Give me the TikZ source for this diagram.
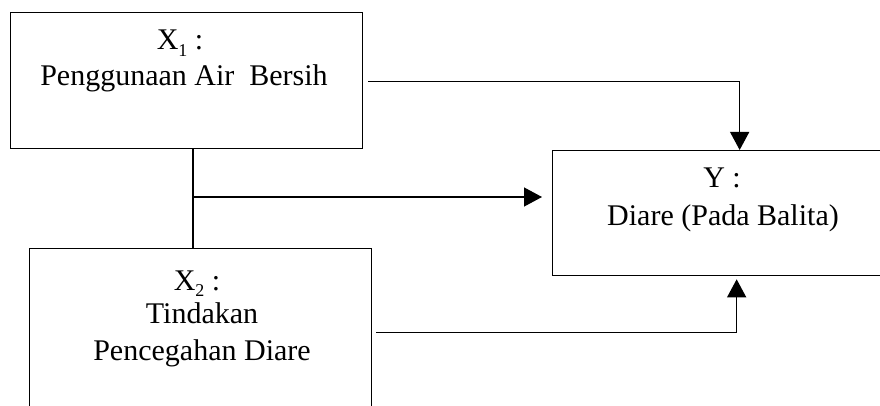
\documentclass[tikz,border=0pt]{standalone}
\usepackage{fontspec}
\setmainfont{Liberation Serif}
\usetikzlibrary{arrows.meta}
\newcommand{\subidx}[1]{\raisebox{-0.22em}{\fontsize{18}{18}\selectfont #1}}
\begin{document}
\begin{tikzpicture}[x=1pt,y=-1pt,
  box/.style={draw=black, line width=1.3pt, anchor=north west, inner sep=0pt},
  lbl/.style={anchor=base, inner sep=0pt, font=\fontsize{30}{36}\selectfont},
  conn/.style={draw=black, line width=1.3pt},
  tip/.style={-{Triangle[length=18pt,width=19pt]}}]
  \useasboundingbox (0,0) rectangle (880,406);
  \clip (0,0) rectangle (880,406);
  \fill[white] (0,0) rectangle (880,406);

  % boxes
  \node[box, minimum width=352pt, minimum height=136pt] (x1) at (10,12) {};
  \node[box, minimum width=342pt, minimum height=168pt] (x2) at (29,248) {};
  \node[box, minimum width=342pt, minimum height=125pt] (y) at (552,150) {};

  % labels
  \node[lbl] (x1a) at (180,50) {X\subidx{1} :};
  \node[lbl] (x1b) at (184,86) {Penggunaan Air\ \ Bersih};
  \node[lbl] (x2a) at (197,290) {X\subidx{2} :};
  \node[lbl] (x2b) at (202,323) {Tindakan};
  \node[lbl] (x2c) at (202,360) {Pencegahan Diare};
  \node[lbl] (ya) at (722,188) {Y :};
  \node[lbl] (yb) at (723,225) {Diare (Pada Balita)};

  % connectors
  \coordinate (j) at (193,197);
  \draw[conn] (x1.south -| j) -- (x2.north -| j);
  \draw[conn, tip, shorten >=10pt] (j) -- (y.west |- j);
  \draw[conn, tip, shorten <=5pt] ([yshift=-1pt]x1.east) -| ([xshift=16pt]y.north);
  \draw[conn, tip, shorten <=4pt, shorten >=3pt] (x2.east) -| ([xshift=13pt]y.south);
\end{tikzpicture}
\end{document}
